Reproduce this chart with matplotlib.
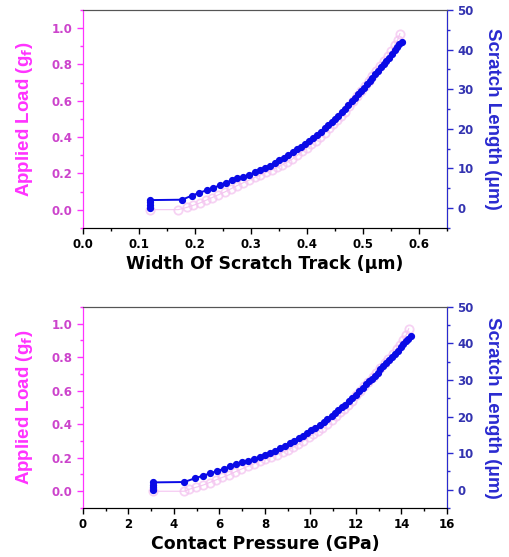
import matplotlib
matplotlib.use("Agg")
import matplotlib.pyplot as plt
from matplotlib.ticker import MultipleLocator

# Scratch length (blue) vs track width / contact pressure
blue_width = [0.120, 0.120, 0.120, 0.120, 0.177, 0.194, 0.208, 0.221, 0.233, 0.244,
              0.255, 0.266, 0.276, 0.286, 0.297, 0.307, 0.316, 0.325, 0.334, 0.343,
              0.351, 0.359, 0.367, 0.375, 0.383, 0.390, 0.397, 0.404, 0.411, 0.418,
              0.425, 0.432, 0.438, 0.444, 0.450, 0.456, 0.462, 0.468, 0.474, 0.480,
              0.486, 0.492, 0.497, 0.502, 0.507, 0.512, 0.517, 0.522, 0.527, 0.532,
              0.537, 0.542, 0.547, 0.552, 0.557, 0.561, 0.565, 0.569]
blue_pressure = [3.08, 3.08, 3.08, 3.08, 4.45, 4.91, 5.28, 5.60, 5.90, 6.18,
                 6.46, 6.73, 6.98, 7.24, 7.51, 7.77, 8.00, 8.22, 8.45, 8.68,
                 8.88, 9.08, 9.29, 9.49, 9.69, 9.87, 10.04, 10.22, 10.40, 10.58,
                 10.75, 10.93, 11.08, 11.23, 11.39, 11.54, 11.69, 11.84, 11.99, 12.14,
                 12.30, 12.45, 12.57, 12.70, 12.83, 12.95, 13.08, 13.21, 13.33, 13.46,
                 13.59, 13.71, 13.84, 13.97, 14.09, 14.19, 14.29, 14.40]
scratch_length = [0.0, 0.7, 1.4, 2.0, 2.1, 3.1, 3.85, 4.5, 5.1, 5.7,
                  6.4, 7.0, 7.5, 7.9, 8.4, 9.0, 9.5, 10.1, 10.7, 11.4,
                  12.0, 12.7, 13.4, 14.1, 14.8, 15.5, 16.2, 16.9, 17.7, 18.5,
                  19.3, 20.1, 20.9, 21.7, 22.5, 23.3, 24.2, 25.1, 26.0, 26.9,
                  27.8, 28.8, 29.6, 30.4, 31.2, 32.0, 32.9, 33.8, 34.6, 35.5,
                  36.3, 37.2, 38.0, 38.9, 39.8, 40.6, 41.3, 42.0]

# Applied load (pink) vs track width / contact pressure
pink_width = [0.120, 0.170, 0.185, 0.197, 0.209, 0.220, 0.231, 0.242, 0.253, 0.264,
              0.275, 0.286, 0.297, 0.307, 0.317, 0.327, 0.337, 0.347, 0.356, 0.365,
              0.374, 0.383, 0.392, 0.400, 0.408, 0.416, 0.424, 0.432, 0.440, 0.447,
              0.454, 0.461, 0.468, 0.475, 0.482, 0.489, 0.496, 0.503, 0.510, 0.517,
              0.524, 0.531, 0.538, 0.545, 0.551, 0.557, 0.562, 0.566]
pink_pressure = [3.08, 4.45, 4.68, 4.98, 5.29, 5.57, 5.84, 6.12, 6.40, 6.68,
                 6.96, 7.24, 7.51, 7.77, 8.02, 8.27, 8.53, 8.78, 9.01, 9.23,
                 9.46, 9.69, 9.92, 10.12, 10.32, 10.52, 10.73, 10.93, 11.13, 11.31,
                 11.49, 11.66, 11.84, 12.02, 12.19, 12.37, 12.55, 12.73, 12.90, 13.08,
                 13.26, 13.43, 13.61, 13.79, 13.94, 14.09, 14.22, 14.32]
applied_load = [0.000, 0.000, 0.012, 0.024, 0.037, 0.052, 0.067, 0.082, 0.097, 0.115,
                0.132, 0.148, 0.163, 0.178, 0.192, 0.205, 0.218, 0.233, 0.247, 0.262,
                0.279, 0.300, 0.322, 0.342, 0.362, 0.380, 0.400, 0.423, 0.448, 0.470,
                0.493, 0.516, 0.540, 0.572, 0.600, 0.627, 0.653, 0.680, 0.708, 0.736,
                0.763, 0.790, 0.818, 0.846, 0.875, 0.905, 0.935, 0.970]

PINK = "#ff33ff"
PINK_TXT = "#cc44cc"
PINK_MARK = "#f4c4f0"
BLUE = "#2a2ad0"
BLUE_TXT = "#3333b0"
BLUE_MARK = "#0a0ae6"

plt.rcParams["font.family"] = ["DejaVu Sans"]


def draw_panel(ax, x_pink, x_blue, xlabel, xlim, xmajor, xminor, xfmt):
    ax.plot(x_pink, applied_load, "-", color=PINK_MARK, lw=0.8, zorder=2)
    ax.plot(x_pink, applied_load, "o", ms=6, mfc="none", mec=PINK_MARK, mew=1.3,
            alpha=0.75, zorder=2)
    ax.set_xlim(*xlim)
    ax.set_ylim(-0.1, 1.1)
    ax.xaxis.set_major_locator(MultipleLocator(xmajor))
    ax.xaxis.set_minor_locator(MultipleLocator(xminor))
    ax.xaxis.set_major_formatter(xfmt)
    ax.yaxis.set_major_locator(MultipleLocator(0.2))
    ax.yaxis.set_minor_locator(MultipleLocator(0.1))
    ax.yaxis.set_major_formatter("{x:.1f}")
    ax.tick_params(axis="x", which="major", direction="out", length=4, width=1,
                   labelsize=8.5, colors="black", pad=3)
    ax.tick_params(axis="x", which="minor", direction="out", length=2, width=1)
    ax.tick_params(axis="y", which="both", direction="out", colors=PINK,
                   labelcolor=PINK_TXT, labelsize=8.5, width=1)
    ax.tick_params(axis="y", which="minor", length=2)
    ax.tick_params(axis="y", which="major", length=4)
    for lab in ax.get_xticklabels() + ax.get_yticklabels():
        lab.set_fontweight("bold")
    ax.spines["left"].set_color(PINK)
    ax.spines["top"].set_color("#555555")
    ax.spines["bottom"].set_color("#222222")
    ax.set_xlabel(xlabel, fontsize=12.5, fontweight="bold", labelpad=3)
    ax.set_ylabel("Applied Load (g$_\\mathbf{f}$)", fontsize=13.5, fontweight="bold",
                  family="Liberation Sans", color=PINK, labelpad=12)

    ax2 = ax.twinx()
    ax2.plot(x_blue, scratch_length, "-", color=BLUE_MARK, lw=1.4, zorder=3)
    ax2.plot(x_blue, scratch_length, "o", ms=4.2, color=BLUE_MARK, zorder=3)
    ax2.set_ylim(-5, 50)
    ax2.yaxis.set_major_locator(MultipleLocator(10))
    ax2.yaxis.set_minor_locator(MultipleLocator(5))
    ax2.tick_params(axis="y", which="both", direction="out", colors=BLUE,
                    labelcolor=BLUE_TXT, labelsize=8.5, width=1)
    ax2.tick_params(axis="y", which="minor", length=2)
    ax2.tick_params(axis="y", which="major", length=4)
    for lab in ax2.get_yticklabels():
        lab.set_fontweight("bold")
    ax2.spines["right"].set_color(BLUE)
    ax2.spines["left"].set_color(PINK)
    ax2.spines["top"].set_color("#555555")
    ax2.set_ylabel("Scratch Length (\u03bcm)", fontsize=13.5, fontweight="bold",
                   family="Liberation Sans", color=BLUE, rotation=270, labelpad=20)
    return ax2


fig = plt.figure(figsize=(5.09, 5.57), dpi=100)
ax_top = fig.add_axes([0.163, 0.591, 0.715, 0.391])
ax_bot = fig.add_axes([0.163, 0.088, 0.715, 0.361])

draw_panel(ax_top, pink_width, blue_width, "Width Of Scratch Track (\u03bcm)",
           (0.0, 0.65), 0.1, 0.05, "{x:.1f}")
draw_panel(ax_bot, pink_pressure, blue_pressure, "Contact Pressure (GPa)",
           (0, 16), 2, 1, "{x:.0f}")

fig.savefig("out.png", dpi=100)
